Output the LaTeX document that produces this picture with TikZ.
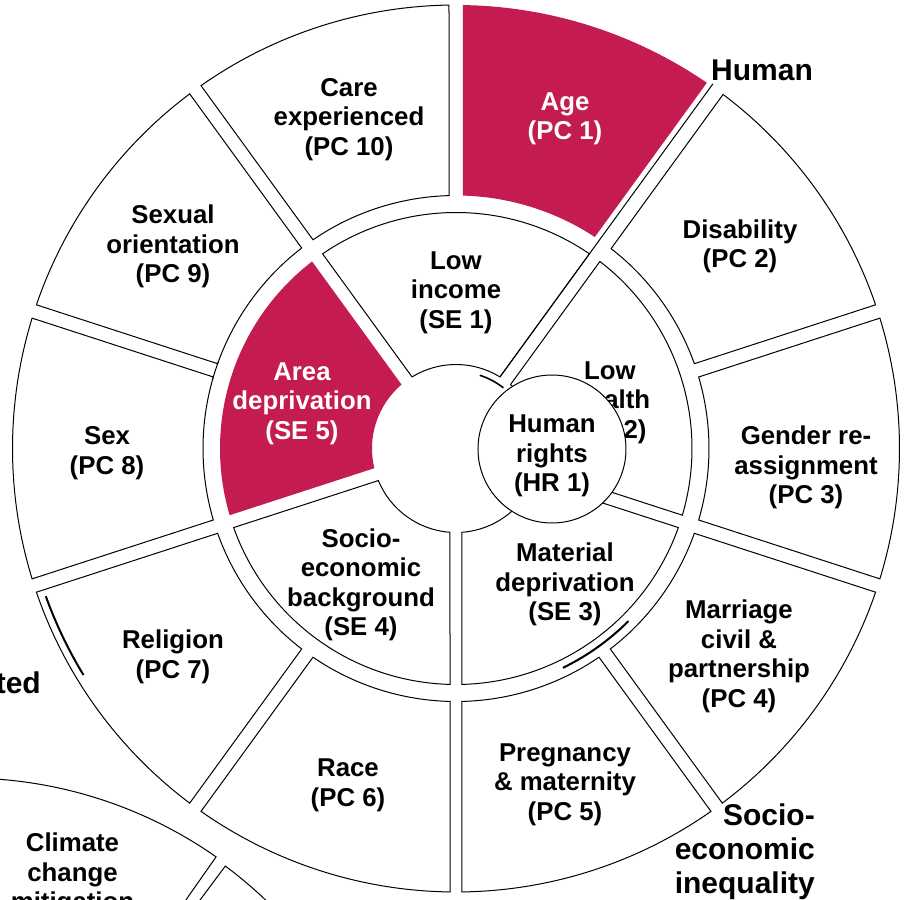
\documentclass[tikz,border=0pt]{standalone}
\usepackage{fontspec}
\setmainfont{Liberation Sans}
\definecolor{wheelred}{RGB}{196,27,80}
\newcommand{\wheelseg}[7]{%
  \pgfmathsetmacro{\wsAo}{#2+asin(#6/#5)}%
  \pgfmathsetmacro{\wsBo}{#3-asin(#7/#5)}%
  \pgfmathsetmacro{\wsAi}{#2+asin(#6/#4)}%
  \pgfmathsetmacro{\wsBi}{#3-asin(#7/#4)}%
  \path[#1] (\wsAo:#5pt) arc[start angle=\wsAo, end angle=\wsBo, radius=#5pt]
     -- (\wsBi:#4pt) arc[start angle=\wsBi, end angle=\wsAi, radius=#4pt] -- cycle;%
}
\tikzset{
  segw/.style={draw=black, fill=white, line width=1pt, line join=miter},
  segr/.style={fill=wheelred},
  thinl/.style={draw=black, line width=1pt},
  thickl/.style={draw=black, line width=2pt},
  txt/.style={font=\bfseries\fontsize{25.8pt}{29.5pt}\selectfont, align=center, inner sep=0pt, text=black},
  seglbl/.style={txt, yshift=-2.5pt},
  seglblw/.style={seglbl, text=white},
  bigtxt/.style={font=\bfseries\fontsize{30pt}{34pt}\selectfont, inner sep=0pt, text=black},
}
\begin{document}
\begin{tikzpicture}[x=1pt,y=1pt]
\useasboundingbox (-456,-451.5) rectangle (450,448.5);
\clip (-456,-451.5) rectangle (450,448.5);
\fill[white] (-456,-451.5) rectangle (450,448.5);

% outer ring (protected characteristics)
\wheelseg{segr}{54}{90}{253}{443.5}{12}{7}
\wheelseg{segw}{90}{126}{253}{443.5}{7}{7}
\wheelseg{segw}{126}{162}{253}{443.5}{7}{7}
\wheelseg{segw}{162}{198}{253}{443.5}{7}{7}
\wheelseg{segw}{198}{234}{253}{443.5}{7}{7}
\wheelseg{segw}{234}{270}{253}{443.5}{7}{6}
\wheelseg{segw}{270}{306}{253}{443.5}{6}{7}
\wheelseg{segw}{306}{342}{253}{443.5}{7}{7}
\wheelseg{segw}{-18}{18}{253}{443.5}{7}{7}
\wheelseg{segw}{18}{54}{253}{443.5}{7}{8}

% middle ring (socio-economic)
\wheelseg{segw}{54}{126}{84}{236}{6.5}{6.5}
\wheelseg{segr}{126}{198}{84}{236}{6.5}{6.5}
\wheelseg{segw}{198}{270}{84}{236}{6.5}{6}
\wheelseg{segw}{270}{342}{84}{236}{6}{6.5}
\wheelseg{segw}{-18}{54}{84}{236}{6.5}{6.5}

% stray lines from the overlapping wheels
\pgfmathsetmacro{\exA}{54+asin(6.5/84)}
\pgfmathsetmacro{\exB}{54+asin(6.5/446)}
\draw[thinl] (\exA:84pt) -- (\exB:446pt);
\draw[thinl] (160:253pt) arc[start angle=160, end angle=164, radius=253pt];
\draw[thickl] (199.8:436pt) arc[start angle=199.8, end angle=211.3, radius=436pt];
\draw[thickl] (-64:244pt) arc[start angle=-64, end angle=-45, radius=244pt];
\draw[line width=1.6pt] (72:77pt) arc[start angle=72, end angle=52, radius=77pt];

% neighbouring wheel (bottom left)
\coordinate (C2) at (-490,-765.5);
\draw[thinl] ([shift={(100:436pt)}]C2) arc[start angle=100, end angle=55, radius=436pt]
   -- ([shift={(55:360pt)}]C2);
\draw[thinl] ([shift={(53.3:360pt)}]C2) -- ([shift={(53.3:434pt)}]C2)
   arc[start angle=53.3, end angle=38, radius=434pt];

% segment labels
\node[seglblw] (age) at (109,332) {Age\\(PC 1)};
\node[seglbl] (care) at (-107,331.5) {Care\\experienced\\(PC 10)};
\node[seglbl] (dis) at (284,204.5) {Disability\\(PC 2)};
\node[seglbl] (gen) at (350,-16.5) {Gender re-\\assignment\\(PC 3)};
\node[seglbl] (mar) at (283,-205.5) {Marriage\\civil \&\\partnership\\(PC 4)};
\node[seglbl] (preg) at (109,-333.5) {Pregnancy\\\& maternity\\(PC 5)};
\node[seglbl] (race) at (-108,-334.5) {Race\\(PC 6)};
\node[seglbl] (relig) at (-283,-206) {Religion\\(PC 7)};
\node[seglbl] (sex) at (-349,-2) {Sex\\(PC 8)};
\node[seglbl] (sor) at (-283,204.5) {Sexual\\orientation\\(PC 9)};
\node[seglbl] (lowinc) at (0,158.5) {Low\\income\\(SE 1)};
\node[seglbl] (loww) at (154,48.5) {Low\\wealth\\(SE 2)};
\node[seglblw] (area) at (-154,47.5) {Area\\deprivation\\(SE 5)};
\node[seglbl] (soc) at (-95,-134) {Socio-\\economic\\background\\(SE 4)};
\node[seglbl] (mat) at (109,-133.5) {Material\\deprivation\\(SE 3)};

% human rights circle
\node[circle, draw=black, line width=1pt, fill=white, minimum size=148pt, inner sep=0pt] (hrc) at (96,-0.5) {};
\node[seglbl] (hr) at (96,-5) {Human\\rights\\(HR 1)};

% wheel titles
\node[bigtxt] (human) at (306,378.5) {Human};
\node[bigtxt, align=right, anchor=east] (sei) at (359,-403) {Socio-\\economic\\inequality};
\node[bigtxt, anchor=east] (ted) at (-415,-234) {ted};
\node[txt, anchor=north] (clim) at (-383.5,-384.5) {Climate\\change\\mitigation};
\end{tikzpicture}
\end{document}
